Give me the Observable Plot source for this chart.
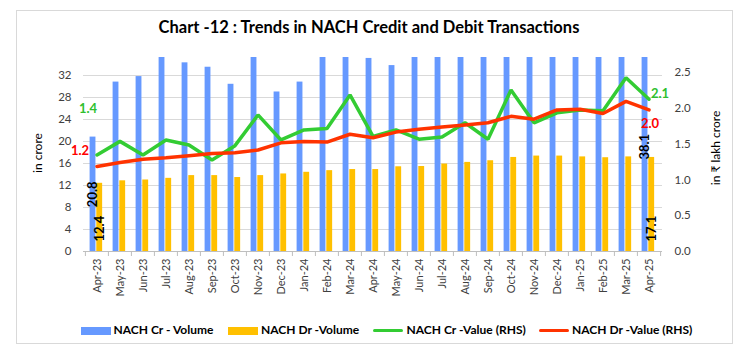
<!DOCTYPE html>
<html>
<head>
<meta charset="utf-8">
<script src="https://cdn.jsdelivr.net/npm/d3@7"></script>
<script src="https://cdn.jsdelivr.net/npm/@observablehq/plot@0.6"></script>
<style>
  body { margin: 0; background: #fff; font-family: Lato, "Liberation Sans", sans-serif; }
  #wrap { position: relative; width: 741px; height: 353px; overflow: hidden; }
  #frame { position: absolute; left: 16px; top: 10px; width: 715px; height: 332px; border: 1px solid #d9d9d9; }
  #chart { position: absolute; left: 0; top: 0; }
  #title { position: absolute; left: 0; width: 738px; top: 17px; text-align: center; font-weight: bold; font-size: 16.5px; color: #000; white-space: nowrap; }
  .ytitle { position: absolute; font-size: 12px; color: #000; white-space: nowrap; transform: translate(-50%, -50%) rotate(-90deg); }
  .leg { position: absolute; font-size: 12px; font-weight: bold; color: #000; white-space: nowrap; top: 322px; line-height: 16px; }
  .sw { position: absolute; }
</style>
</head>
<body>
<div id="wrap">
  <div id="frame"></div>
  <div id="chart"></div>
  <div id="title">Chart -12 : Trends in NACH Credit and Debit Transactions</div>
  <div class="ytitle" style="left:37px; top:153px;">in crore</div>
  <div class="ytitle" style="left:715px; top:148px;">in ₹ lakh crore</div>
  <div id="legend"></div>
</div>
<script>
// ---- data ----
const months = ["Apr-23","May-23","Jun-23","Jul-23","Aug-23","Sep-23","Oct-23","Nov-23","Dec-23",
  "Jan-24","Feb-24","Mar-24","Apr-24","May-24","Jun-24","Jul-24","Aug-24","Sep-24","Oct-24",
  "Nov-24","Dec-24","Jan-25","Feb-25","Mar-25","Apr-25"];
// NACH Cr - Volume (crore); bars above ~35 are cut off at the top of the chart
const crVolume = [20.8, 30.8, 31.8, 35.8, 34.3, 33.5, 30.4, 36.2, 29.0, 30.8, 36.6, 37.3, 35.1, 33.8,
  36.2, 36.7, 36.9, 37.0, 38.0, 37.1, 38.2, 38.7, 37.6, 40.1, 38.1];
// NACH Dr - Volume (crore)
const drVolume = [12.4, 12.85, 13.0, 13.3, 13.8, 13.8, 13.45, 13.8, 14.1, 14.4, 14.7, 14.9, 14.9, 15.4,
  15.45, 15.9, 16.2, 16.5, 17.1, 17.35, 17.35, 17.2, 17.05, 17.2, 17.1];
// NACH Cr - Value (RHS, ₹ lakh crore)
const crValue = [1.35, 1.54, 1.35, 1.56, 1.49, 1.28, 1.48, 1.91, 1.56, 1.70, 1.72, 2.19, 1.61, 1.70,
  1.57, 1.60, 1.80, 1.57, 2.26, 1.80, 1.94, 1.98, 1.97, 2.43, 2.13];
// NACH Dr - Value (RHS, ₹ lakh crore)
const drValue = [1.19, 1.245, 1.29, 1.31, 1.34, 1.37, 1.38, 1.42, 1.52, 1.54, 1.53, 1.64, 1.59, 1.67,
  1.71, 1.74, 1.77, 1.80, 1.89, 1.85, 1.98, 1.99, 1.93, 2.10, 1.98];
const leftTicks = [0, 4, 8, 12, 16, 20, 24, 28, 32];
const rightTicks = [0, 0.5, 1.0, 1.5, 2.0, 2.5];
const seriesNames = ["NACH Cr - Volume", "NACH Dr -Volume", "NACH Cr -Value (RHS)", "NACH Dr -Value (RHS)"];
const colors = ["#6699ff", "#ffc000", "#33cc33", "#ff3300"];

// ---- layout helpers ----
const leftMax = 35.27;
const k = 13; // left units per right unit (secondary axis)
const rows = months.map((m, i) => ({m, cr: crVolume[i], dr: drVolume[i], crv: crValue[i] * k, drv: drValue[i] * k}));
const first = rows[0], last = rows[rows.length - 1];

const W = 741, H = 353, mL = 83, mR = 79, mT = 57, mB = 102;
const bw = (W - mL - mR) / months.length;

const fontFam = "Lato, 'Liberation Sans', sans-serif";

const chart = Plot.plot({
  width: W, height: H,
  marginLeft: mL, marginRight: mR, marginTop: mT, marginBottom: mB,
  style: {fontFamily: fontFam, background: "transparent", overflow: "visible"},
  x: {type: "band", domain: months, padding: 0, axis: null, label: null},
  y: {domain: [0, leftMax], axis: null, label: null},
  marks: [
    Plot.ruleY(leftTicks.filter(d => d > 0), {stroke: "#d9d9d9", strokeWidth: 1}),
    Plot.barY(rows, {x: "m", y: "cr", fill: colors[0], insetLeft: 4.6, insetRight: bw - 10.6, clip: true}),
    Plot.barY(rows, {x: "m", y: "dr", fill: colors[1], insetLeft: 11.3, insetRight: bw - 17.3}),
    Plot.ruleY([0], {stroke: "#bfbfbf", strokeWidth: 1}),
    Plot.ruleX(rows, {x: "m", y1: 0, y2: 0, insetBottom: -5, dx: -bw / 2, stroke: "#bfbfbf"}),
    Plot.ruleX([last], {x: "m", y1: 0, y2: 0, insetBottom: -5, dx: bw / 2, stroke: "#bfbfbf"}),
    Plot.lineY(rows, {x: "m", y: "crv", stroke: colors[2], strokeWidth: 3.5, strokeLinejoin: "miter"}),
    Plot.lineY(rows, {x: "m", y: "drv", stroke: colors[3], strokeWidth: 3.5, strokeLinejoin: "miter"}),
    // axes
    Plot.axisX({domain: months, tickSize: 0, tickPadding: 7, tickRotate: -90, fontSize: 11, color: "#404040", label: null}),
    Plot.axisY({anchor: "left", ticks: leftTicks, tickSize: 0, tickPadding: 12, fontSize: 11.5, color: "#404040", label: null}),
    Plot.axisY({anchor: "right", ticks: rightTicks.map(r => r * k), tickFormat: d => (d / k).toFixed(1), tickSize: 0, tickPadding: 12, fontSize: 11.5, color: "#404040", label: null}),
    // data labels on bars (first and last months)
    Plot.text([first, last], {x: "m", y: d => d.cr / 2, text: d => d.cr.toFixed(1), rotate: -90, dx: -3.8, fontWeight: "bold", fontSize: 13, fill: "#000"}),
    Plot.text([first, last], {x: "m", y: 0, text: d => d.dr.toFixed(1), rotate: -90, textAnchor: "start", dy: -10, dx: 3.2, fontWeight: "bold", fontSize: 13, fill: "#000"}),
    // line value labels
    Plot.text([first], {x: "m", y: "crv", text: d => (d.crv / k).toFixed(1), dx: -9, dy: -46, fill: "#2fbf2f", fontWeight: "bold", fontSize: 13}),
    Plot.text([first], {x: "m", y: "drv", text: d => (d.drv / k).toFixed(1), dx: -17, dy: -16, fill: "#ff0000", fontWeight: "bold", fontSize: 13}),
    Plot.text([last], {x: "m", y: "crv", text: d => (d.crv / k).toFixed(1), dx: 11, dy: -5, fill: "#2fbf2f", fontWeight: "bold", fontSize: 13}),
    Plot.text([last], {x: "m", y: "drv", text: d => (d.drv / k).toFixed(1), dx: 1, dy: 14, fill: "#ff0000", fontWeight: "bold", fontSize: 13})
  ]
});
document.getElementById("chart").appendChild(chart);

// ---- legend ----
const legend = document.getElementById("legend");
const legItems = [
  {sw: 81, tx: 113.5, kind: "rect"},
  {sw: 227.7, tx: 261, kind: "rect"},
  {sw: 372.7, tx: 406.5, kind: "line"},
  {sw: 539, tx: 572, kind: "line"}
];
legItems.forEach((it, i) => {
  const s = document.createElement("div");
  s.className = "sw";
  s.style.left = it.sw + "px";
  s.style.width = "30px";
  s.style.background = colors[i];
  if (it.kind === "rect") { s.style.top = "326.5px"; s.style.height = "8px"; }
  else { s.style.top = "328.5px"; s.style.height = "3.5px"; s.style.borderRadius = "2px"; }
  legend.appendChild(s);
  const t = document.createElement("div");
  t.className = "leg";
  t.style.left = it.tx + "px";
  t.textContent = seriesNames[i];
  legend.appendChild(t);
});
</script>
</body>
</html>
